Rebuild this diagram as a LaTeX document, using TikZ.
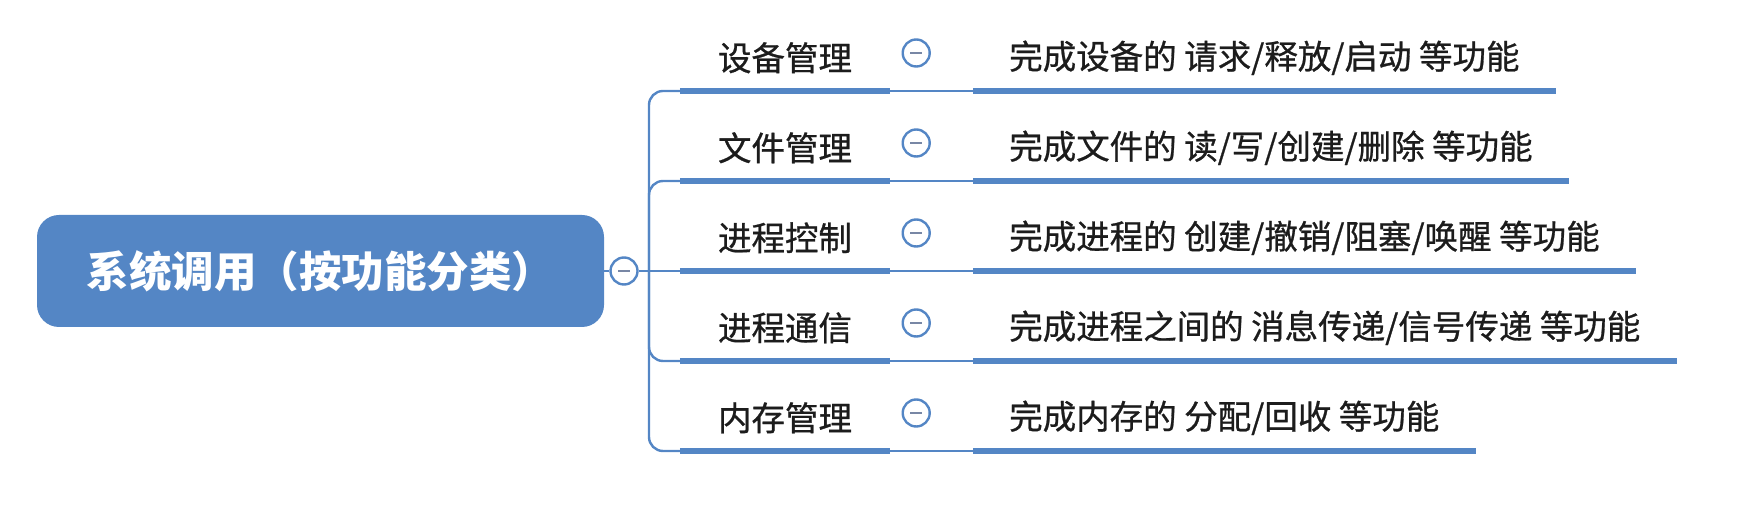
\documentclass[tikz,border=0pt]{standalone}
\usepackage{fontspec}
\newfontfamily\cjk[FakeBold=0.8]{Noto Sans CJK SC}
\newfontfamily\cjkroot{Noto Sans CJK SC}
\definecolor{mblue}{RGB}{84,134,197}
\definecolor{mtext}{RGB}{28,28,28}
\definecolor{mminus}{RGB}{120,135,165}
\tikzset{
  rootbox/.style={draw=none, fill=mblue, rounded corners=22pt, minimum width=567pt, minimum height=112pt,
    text=white, font=\cjkroot\bfseries\fontsize{42.5}{46}\selectfont, inner sep=0pt},
  fold/.style={circle, draw=mblue, line width=2.4pt, fill=white, minimum size=27pt, inner sep=0pt,
    path picture={\draw[mminus, line width=1.7pt] ([xshift=-6pt]path picture bounding box.center) -- ([xshift=6pt]path picture bounding box.center);}},
  childbox/.style={minimum width=210pt, minimum height=66pt, inner sep=0pt, anchor=south,
    text=mtext, font=\cjk\fontsize{33.5}{37}\selectfont},
  leafbox/.style={minimum height=66pt, inner xsep=36pt, inner ysep=0pt, anchor=south west,
    text=mtext, font=\cjk\fontsize{33.5}{37}\selectfont},
  thinline/.style={draw=mblue, line width=2.4pt},
  thickline/.style={draw=mblue, line width=6pt},
}
\begin{document}
\begin{tikzpicture}[x=1pt,y=1pt]
\useasboundingbox (0,0) rectangle (1739,532);
% root
\node[rootbox] (root) at (320.5,261) {系统调用（按功能分类）};
\node[fold] (rf) at (624,261) {};
\coordinate (tr) at (649,261);
\draw[thinline] (root.east) -- (rf.west);
\draw[thinline] (rf.east) -- (tr);
% children
\node[childbox] (c1) at (785,441) {设备管理};
\node[childbox] (c2) at (785,351) {文件管理};
\node[childbox] (c3) at (785,261) {进程控制};
\node[childbox] (c4) at (785,171) {进程通信};
\node[childbox] (c5) at (785,81) {内存管理};
% leaves
\node[leafbox] (g1) at (973,441) {完成设备的 请求/释放/启动 等功能};
\node[leafbox] (g2) at (973,351) {完成文件的 读/写/创建/删除 等功能};
\node[leafbox] (g3) at (973,261) {完成进程的 创建/撤销/阻塞/唤醒 等功能};
\node[leafbox] (g4) at (973,171) {完成进程之间的 消息传递/信号传递 等功能};
\node[leafbox] (g5) at (973,81) {完成内存的 分配/回收 等功能};
% trunk to children
\foreach \i in {1,2,4,5}{
  \draw[thinline, rounded corners=14pt] (tr) |- (c\i.south west);
}
\draw[thinline] (tr) -- (c3.south west);
% underlines, links and fold markers
\foreach \i in {1,...,5}{
  \draw[thickline] (c\i.south west) -- (c\i.south east);
  \draw[thinline] (c\i.south east) -- (g\i.south west);
  \draw[thickline] (g\i.south west) -- (g\i.south east);
  \node[fold] (f\i) at ([xshift=26pt,yshift=38pt]c\i.south east) {};
}
\end{tikzpicture}
\end{document}
